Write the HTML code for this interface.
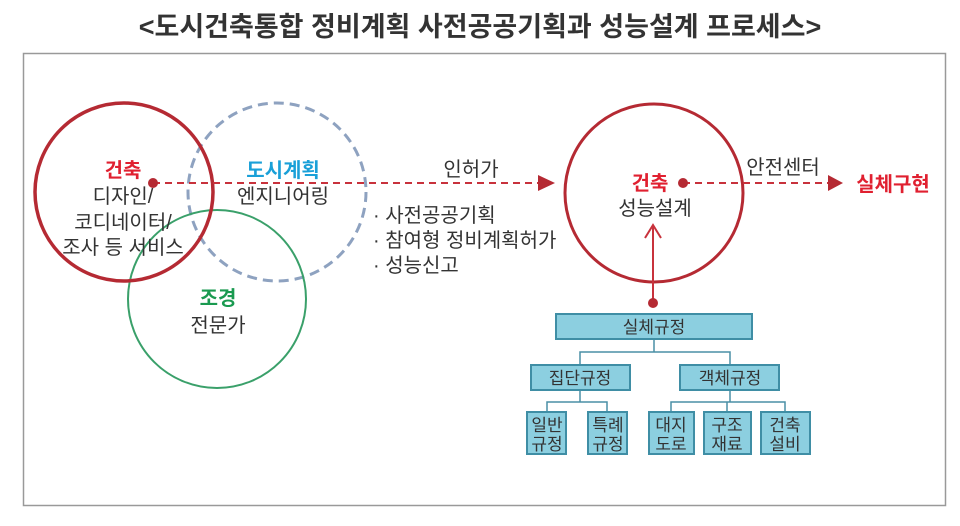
<!DOCTYPE html>
<html><head><meta charset="utf-8"><style>
body{margin:0;background:#fff;width:960px;height:521px;overflow:hidden}
svg text{font-family:"Liberation Sans","Noto Sans CJK KR",sans-serif}
</style></head><body>
<svg width="960" height="521" viewBox="0 0 960 521">
<text x="480" y="36" text-anchor="middle" font-size="27" font-weight="bold" fill="#333">&lt;도시건축통합 정비계획 사전공공기획과 성능설계 프로세스&gt;</text>
<rect x="23.5" y="53.5" width="922" height="452" fill="none" stroke="#999" stroke-width="1.5"/>
<circle cx="277" cy="192" r="89" fill="none" stroke="#8ea2c0" stroke-width="3" stroke-dasharray="10 6"/>
<circle cx="217" cy="299" r="89" fill="none" stroke="#3aa06a" stroke-width="2"/>
<circle cx="124" cy="192" r="89" fill="none" stroke="#b52a33" stroke-width="3.5"/>
<circle cx="654" cy="193" r="89" fill="none" stroke="#b52a33" stroke-width="3"/>
<line x1="153" y1="183" x2="540" y2="183" stroke="#c8323c" stroke-width="2" stroke-dasharray="7 5"/>
<polygon points="538,175 555,183 538,191" fill="#b52a33"/>
<circle cx="153" cy="183" r="5" fill="#b52a33"/>
<line x1="683" y1="183" x2="828" y2="183" stroke="#c8323c" stroke-width="2" stroke-dasharray="7 5"/>
<polygon points="828,175 843,183 828,191" fill="#b52a33"/>
<circle cx="683" cy="183" r="5" fill="#b52a33"/>
<line x1="653" y1="303" x2="653" y2="226" stroke="#c8323c" stroke-width="2"/>
<polyline points="645,238 653,225 661,238" fill="none" stroke="#c8323c" stroke-width="2"/>
<circle cx="653" cy="303" r="5" fill="#b52a33"/>
<g font-size="20" text-anchor="middle" fill="#333">
<text x="123" y="177" fill="#e02030" font-weight="bold">건축</text>
<text x="123" y="203">디자인/</text>
<text x="123" y="229">코디네이터/</text>
<text x="123" y="254">조사 등 서비스</text>
<text x="283" y="177" fill="#1aa0d8" font-weight="bold">도시계획</text>
<text x="283" y="203">엔지니어링</text>
<text x="218" y="305" fill="#1a9a50" font-weight="bold">조경</text>
<text x="218" y="332">전문가</text>
<text x="471" y="176">인허가</text>
<text x="650" y="190" fill="#e02030" font-weight="bold">건축</text>
<text x="655" y="215">성능설계</text>
<text x="783" y="174">안전센터</text>
<text x="893" y="191" fill="#e02030" font-weight="bold">실체구현</text>
</g>
<g font-size="20" fill="#333">
<text x="373" y="222">· 사전공공기획</text>
<text x="373" y="247">· 참여형 정비계획허가</text>
<text x="373" y="272">· 성능신고</text>
</g>
<g stroke="#4a8fa5" stroke-width="1.5" fill="none">
<path d="M654,339V352M580,365V352H730V365"/>
<path d="M580,390V402M547,412V402H607V412"/>
<path d="M730,390V402M671,412V402H785V412M727,402V412"/>
</g>
<g fill="#8ccfe0" stroke="#3f8ea5" stroke-width="2">
<rect x="556" y="314" width="196" height="25"/>
<rect x="531" y="365" width="99" height="25"/>
<rect x="680" y="365" width="99" height="25"/>
<rect x="527" y="412" width="39" height="42"/>
<rect x="588" y="412" width="39" height="42"/>
<rect x="649" y="412" width="45" height="42"/>
<rect x="704" y="412" width="47" height="42"/>
<rect x="761" y="412" width="49" height="42"/>
</g>
<g font-size="17" text-anchor="middle" fill="#333">
<text x="654" y="333">실체규정</text>
<text x="580" y="384">집단규정</text>
<text x="730" y="384">객체규정</text>
<text x="547" y="431">일반</text><text x="547" y="450">규정</text>
<text x="608" y="431">특례</text><text x="608" y="450">규정</text>
<text x="671" y="431">대지</text><text x="671" y="450">도로</text>
<text x="727" y="431">구조</text><text x="727" y="450">재료</text>
<text x="785" y="431">건축</text><text x="785" y="450">설비</text>
</g>
</svg>
</body></html>
